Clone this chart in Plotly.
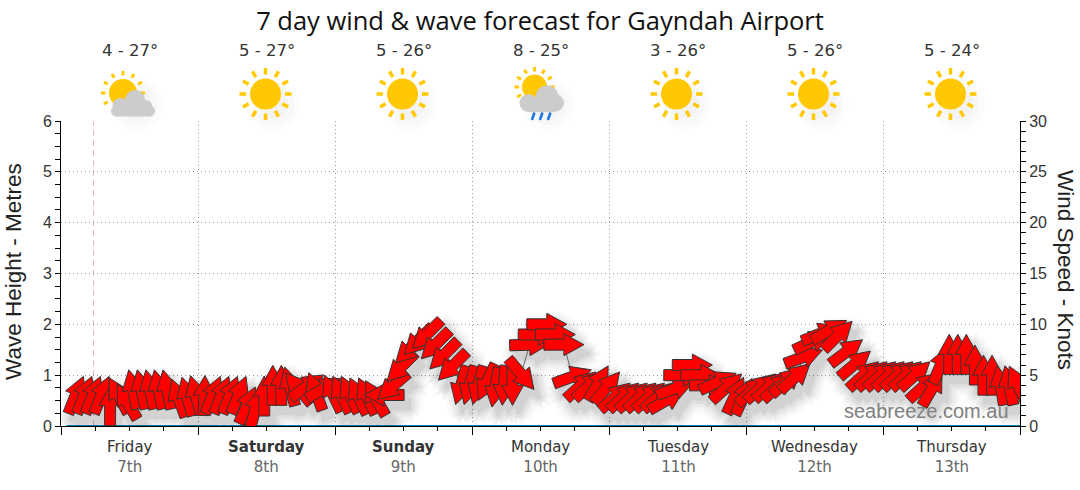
import math
import plotly.graph_objects as go

# Days along the bottom, and the summary above each one
day_names = ["Friday", "Saturday", "Sunday", "Monday", "Tuesday", "Wednesday", "Thursday"]
day_dates = ["7th", "8th", "9th", "10th", "11th", "12th", "13th"]
bold_days = ["Saturday", "Sunday"]
temps = ["4 - 27°", "5 - 27°", "5 - 26°", "8 - 25°", "3 - 26°", "5 - 26°", "5 - 24°"]
icons = ["partly", "sun", "sun", "rain", "sun", "sun", "sun"]
day_starts = [0, 24, 48, 72, 96, 120, 144, 168]
day_middles = [12, 36, 60, 84, 108, 132, 156]
now_hour = 5.7

# Wind forecast, hours since Friday midnight
wind_hours = [
    2.6, 4.1, 5.6, 7.1, 8.6, 10.1, 11.6, 12.6, 14.1, 15.6, 17.1, 18.6, 20.6, 22.1, 23.6, 25.1,
    26.6, 28.1, 29.6, 31.1, 32.6, 34.1, 35.6, 37.1, 38.6, 40.1, 41.6, 43.1, 44.6, 46.1, 47.6, 49.1,
    50.6, 52.1, 53.6, 55.1, 56.6, 58.1, 59.6, 61.1, 62.6, 64.1, 65.6, 67.1, 68.6, 70.1, 71.6, 73.1,
    74.6, 76.1, 77.6, 79.1, 80.6, 82.1, 83.6, 85.1, 86.6, 88.1, 89.6, 91.1, 92.6, 94.1, 95.6, 97.1,
    98.6, 100.1, 101.6, 103.1, 104.6, 106.1, 107.6, 109.1, 110.6, 112.1, 113.6, 115.1, 116.6, 118.1, 119.6, 121.1,
    122.6, 124.1, 125.6, 127.1, 128.6, 130.1, 131.6, 133.1, 134.6, 136.1, 137.6, 139.1, 140.6, 142.1, 143.6, 145.1,
    146.6, 148.1, 149.6, 151.1, 152.6, 154.1, 155.6, 157.1, 158.6, 160.1, 161.6, 163.1, 164.6, 166.1, 167.6,
]
wind_knots = [
    3.05, 3.05, 3.05, 3.05, 2.0, 3.0, 2.4, 3.6, 3.6, 3.6, 3.6, 3.6, 2.75, 2.9, 3.05, 3.0,
    3.05, 3.05, 3.05, 3.05, 2.05, 1.8, 2.95, 4.0, 4.0, 3.9, 3.7, 3.9, 3.4, 3.7, 3.2, 3.1,
    3.1, 2.95, 2.95, 2.75, 3.05, 3.9, 5.8, 7.6, 8.4, 9.0, 8.0, 7.0, 5.9, 4.0, 4.0, 4.0,
    4.3, 3.8, 4.0, 4.0, 5.1, 8.0, 9.0, 10.0, 9.0, 8.0, 4.85, 4.0, 4.0, 4.2, 3.8, 2.9,
    2.9, 2.9, 2.9, 2.9, 2.9, 2.55, 3.7, 5.0, 6.0, 5.0, 4.0, 4.35, 3.8, 3.0, 2.9, 3.5,
    3.8, 3.9, 3.9, 4.4, 4.8, 6.8, 8.3, 9.1, 9.4, 8.9, 7.3, 6.1, 5.0, 5.0, 5.0, 5.0,
    5.0, 5.0, 5.0, 3.9, 3.7, 6.0, 7.05, 7.05, 7.05, 6.0, 5.0, 5.0, 4.0, 4.0, 4.1,
]
# Way each arrow points, degrees clockwise from up
wind_bearing = [
    22, 22, 22, 22, 0, -28, -30, -12, -12, -12, -12, -12, -20, -15, -15, 2,
    22, 22, 22, 22, 24, 15, 0, 0, 0, -15, -40, 55, -20, 60, -25, -25,
    -25, -25, -25, -30, -90, 229, 225, 225, 225, 225, 225, 225, 225, 196, 196, 196,
    205, 190, 185, 180, 140, 88, 90, 90, 90, 90, 70, 48, 48, 30, 40, 48,
    48, 48, 48, 48, 48, 60, 70, 90, 90, 90, 90, 65, 48, 25, 25, 48,
    48, 48, 48, 48, 48, 70, 65, 68, 60, 45, 53, 50, 48, 48, 48, 48,
    48, 48, 48, 48, 30, 22, 0, 0, 0, 0, 0, 0, -10, -12, -25,
]

# Wave forecast is flat zero for the airport
wave_hours = [1, 168]
wave_metres = [0, 0]

# Plot box in window pixels, used to size arrows and icons
LEFT, RIGHT, TOP, BOTTOM = 61, 1020, 121, 426
PX_PER_HOUR = (RIGHT - LEFT) / 168
PX_PER_KNOT = (BOTTOM - TOP) / 30

# Block arrow pointing up, in pixels around its centre
ARROW = [(-5.5, -20), (5.5, -20), (5.5, 0), (11, 0), (0, 20), (-11, 0), (-5.5, 0)]


def arrow_outline(hour, knots, bearing, off_x=0, off_y=0):
    a = math.radians(bearing)
    xs, ys = [], []
    for px, py in ARROW + ARROW[:1]:
        rx = px * math.cos(a) + py * math.sin(a) + off_x
        ry = -px * math.sin(a) + py * math.cos(a) + off_y
        xs.append(hour + rx / PX_PER_HOUR)
        ys.append(knots + ry / PX_PER_KNOT)
    return xs, ys


fig = go.Figure()

# Soft shadow: copies of the arrows spread in a ring, moved down and right,
# all copies of one ring in a single faint trace so they do not add up
for radius, alpha in [(13, 0.018), (10, 0.026), (7, 0.036), (4, 0.046), (1, 0.055)]:
    sx, sy = [], []
    for h, k, b in zip(wind_hours, wind_knots, wind_bearing):
        for step in range(10):
            t = math.radians(step * 36)
            xs, ys = arrow_outline(h, k, b, 6 + radius * math.cos(t), -9 + radius * math.sin(t))
            sx += xs + [None]
            sy += ys + [None]
    fig.add_trace(go.Scatter(
        x=sx, y=sy, yaxis="y2", mode="lines", fill="toself", fillcolor="black",
        line=dict(color="black", width=0), opacity=alpha, hoverinfo="skip",
    ))

# Thin line joining the wind points
fig.add_trace(go.Scatter(
    x=wind_hours, y=wind_knots, yaxis="y2", mode="lines",
    line=dict(color="#666666", width=1), hoverinfo="skip",
))

# Wave height along the floor
fig.add_trace(go.Scatter(
    x=wave_hours, y=wave_metres, mode="lines", cliponaxis=False,
    line=dict(color="#0f87b8", width=2), hoverinfo="skip",
))

# One trace per arrow so later ones sit on top with their own outline
for h, k, b in zip(wind_hours, wind_knots, wind_bearing):
    xs, ys = arrow_outline(h, k, b)
    fig.add_trace(go.Scatter(
        x=xs, y=ys, yaxis="y2", mode="lines", fill="toself", fillcolor="#ff0000",
        line=dict(color="#333333", width=1), hoverinfo="skip",
    ))


# Weather icons, drawn in pixels around the middle of each day
def page_y(py):
    return (BOTTOM - py) / (BOTTOM - TOP)


def page_x(px):
    return (px - LEFT) / (RIGHT - LEFT)


def round_shape(hour, dx, py, r, color, opacity=1):
    return dict(
        type="circle", xref="x", yref="paper", xsizemode="pixel", ysizemode="pixel",
        xanchor=hour, yanchor=page_y(py), x0=dx - r, x1=dx + r, y0=-r, y1=r,
        fillcolor=color, opacity=opacity, line_width=0,
    )


def box_shape(hour, x0, x1, py0, py1, color):
    return dict(
        type="rect", xref="x", yref="paper", xsizemode="pixel", ysizemode="pixel",
        xanchor=hour, yanchor=page_y(py0), x0=x0, x1=x1, y0=0, y1=py0 - py1,
        fillcolor=color, line_width=0,
    )


def stroke_shape(hour, x0, x1, py0, py1, color, width):
    return dict(
        type="line", xref="x", yref="paper", xsizemode="pixel", ysizemode="pixel",
        xanchor=hour, yanchor=page_y(py0), x0=x0, x1=x1, y0=0, y1=py0 - py1,
        line=dict(color=color, width=width),
    )


def sun_shapes(hour, dx, py, r, ray_in, ray_out, ray_w, angles):
    out = [round_shape(hour, dx, py, r, "#ffc800")]
    for deg in angles:
        a = math.radians(deg)
        out.append(stroke_shape(
            hour, dx + ray_in * math.sin(a), dx + ray_out * math.sin(a),
            py - ray_in * math.cos(a), py - ray_out * math.cos(a), "#ffc800", ray_w,
        ))
    return out


shapes = [dict(
    type="line", xref="x", yref="paper", x0=now_hour, x1=now_hour, y0=0, y1=1, layer="below",
    line=dict(color="#e8b8c0", width=1, dash="6px,4px"),
)]

all_rays = [0, 30, 60, 90, 120, 150, 180, 210, 240, 270, 300, 330]
for mid, icon in zip(day_middles, icons):
    # icon shadow
    for r, alpha in [(27, 0.012), (21, 0.015), (15, 0.02)]:
        shapes.append(round_shape(mid, 7, 104, r, "black", alpha))
    if icon == "sun":
        shapes += sun_shapes(mid, -1, 94, 15.5, 19.5, 26, 3.5, all_rays)
    elif icon == "partly":
        shapes += sun_shapes(mid, -6.5, 93, 14, 17.5, 22, 3, [0, 30, 60, 90, 240, 270, 300, 330])
        for dx, py, r in [(5.5, 100, 10), (-9, 106, 8), (-13, 111, 5.5), (16, 107, 7), (20, 111, 5.5)]:
            shapes.append(round_shape(mid, dx, py, r, "#cccccc"))
        shapes.append(box_shape(mid, -13, 20, 106, 116.5, "#cccccc"))
    elif icon == "rain":
        shapes += sun_shapes(mid, -6, 87, 12.5, 15.5, 20, 3, [0, 30, 60, 90, 240, 270, 300, 330])
        for dx, py, r in [(6.5, 97, 11.5), (-12, 103, 9), (15, 103, 8.5)]:
            shapes.append(round_shape(mid, dx, py, r, "#cccccc"))
        shapes.append(box_shape(mid, -12, 15, 103, 112, "#cccccc"))
        for dx in [-6, 2, 10]:
            shapes.append(stroke_shape(mid, dx, dx - 2.6, 112.5, 120, "#1a73e8", 2.5))

# Text: day labels under the axis, temperatures above the icons
notes = []
for mid, name, date, temp in zip(day_middles, day_names, day_dates, temps):
    label = f"<b>{name}</b>" if name in bold_days else name
    notes.append(dict(
        x=mid, y=page_y(457), xref="x", yref="paper", showarrow=False, yanchor="middle",
        text=f"{label}<br><span style='color:#666666'>{date}</span>", align="center",
        font=dict(family="DejaVu Sans", size=15, color="#333333"), borderpad=0,
    ))
    notes.append(dict(
        x=mid, y=page_y(50), xref="x", yref="paper", showarrow=False, yanchor="middle",
        text=temp, font=dict(family="DejaVu Sans", size=16.5, color="#333333"),
    ))
notes.append(dict(
    x=page_x(1011), y=page_y(411), xref="x domain", yref="paper",
    showarrow=False, xanchor="right", yanchor="middle",
    text="seabreeze.com.au", font=dict(family="Liberation Sans", size=20, color="#808080"),
))
# Axis titles placed by hand so they do not push the plot box around
notes.append(dict(
    x=page_x(13), y=page_y(272), xref="x domain", yref="paper", showarrow=False, xanchor="center",
    text="Wave Height - Metres", textangle=-90, font=dict(size=22.5, color="#222222"),
))
notes.append(dict(
    x=page_x(1066), y=page_y(270), xref="x domain", yref="paper", showarrow=False, xanchor="center",
    text="Wind Speed - Knots", textangle=90, font=dict(size=22.5, color="#222222"),
))

fig.update_layout(
    width=1080, height=490,
    margin=dict(l=LEFT, r=1080 - RIGHT, t=TOP, b=490 - BOTTOM),
    paper_bgcolor="white", plot_bgcolor="white", showlegend=False,
    font=dict(family="Liberation Sans", color="#333333"),
    title=dict(
        text="7 day wind & wave forecast for Gayndah Airport",
        x=0.5, xanchor="center", y=1 - 21 / 490, yanchor="middle",
        font=dict(family="Open Sans", size=25.5, color="#111111"),
    ),
    xaxis=dict(
        range=[0, 168], tickvals=day_starts, ticktext=[""] * 8, ticks="outside", ticklen=8,
        tickcolor="black", showline=True, linecolor="black", showgrid=True, automargin=False,
        gridcolor="#999999", griddash="1px,3px", zeroline=False,
        minor=dict(dtick=6, tick0=0, ticks="outside", ticklen=4, tickcolor="black", showgrid=False),
    ),
    yaxis=dict(
        range=[0, 6], dtick=1, ticks="outside", ticklen=5, tickcolor="black", showline=True,
        linecolor="black", showgrid=True, gridcolor="#999999", griddash="1px,3px", zeroline=False,
        tickfont=dict(size=16, color="#333333"), automargin=False,
        minor=dict(dtick=0.25, ticks="outside", ticklen=5, tickcolor="black", showgrid=False),
    ),
    yaxis2=dict(
        range=[0, 30], dtick=5, overlaying="y", side="right", ticks="outside", ticklen=5,
        tickcolor="black", showline=True, linecolor="black", showgrid=False, zeroline=False,
        tickfont=dict(size=16, color="#333333"), automargin=False,
        minor=dict(dtick=1, ticks="outside", ticklen=5, tickcolor="black", showgrid=False),
    ),
    shapes=shapes,
    annotations=notes,
)

# The browser's default body margin would push the figure 8px in and clip it
fig.write_html("out.html", config={"displayModeBar": False},
               post_script="document.body.style.margin = '0';")
